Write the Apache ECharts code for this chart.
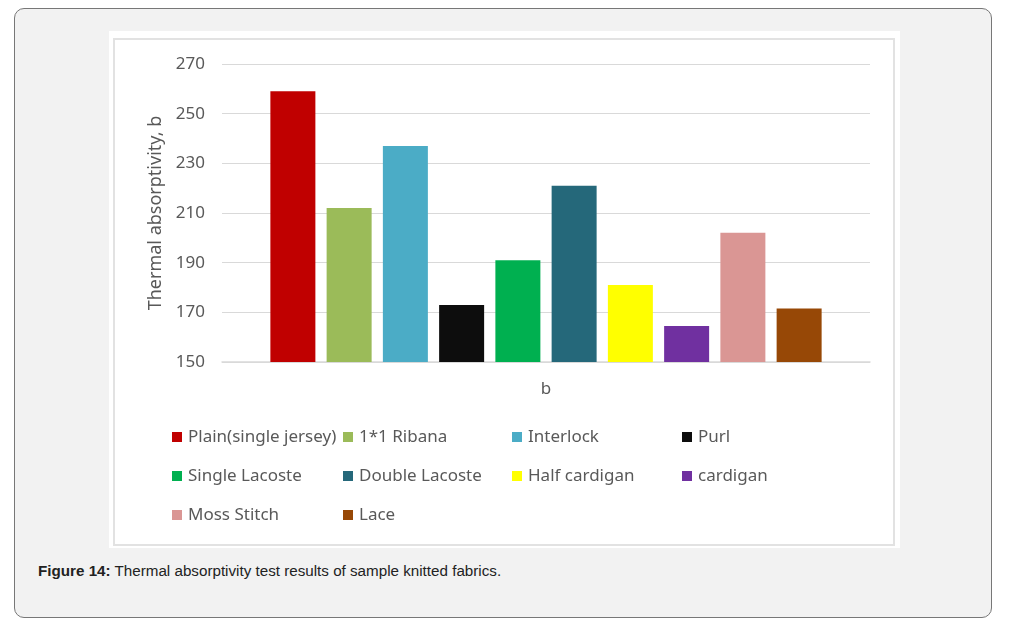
<!DOCTYPE html>
<html>
<head>
<meta charset="utf-8">
<script src="https://cdn.jsdelivr.net/npm/echarts@6/dist/echarts.min.js"></script>
<style>
  html, body { margin: 0; padding: 0; background: #fff; }
  #frame {
    position: absolute; left: 14px; top: 8px; width: 976px; height: 608px;
    border: 1.5px solid #777; border-radius: 10px; background: #f2f2f2;
  }
  #chart { position: absolute; left: 109px; top: 31px; width: 791px; height: 517px; background: #fff; }
  #caption {
    position: absolute; left: 38px; top: 562px; line-height: 18px;
    font-family: 'Liberation Sans', Arial, sans-serif; font-size: 15.2px; color: #222;
  }
</style>
</head>
<body>
<div id="frame"></div>
<div id="chart"></div>
<div id="caption"><b>Figure 14:</b> Thermal absorptivity test results of sample knitted fabrics.</div>
<script>
// 数据
const categories = ['b']
const fabrics = ['Plain(single jersey)', '1*1 Ribana', 'Interlock', 'Purl', 'Single Lacoste',
  'Double Lacoste', 'Half cardigan', 'cardigan', 'Moss Stitch', 'Lace']
const absorptivity = [259, 212, 237, 173, 191, 221, 181, 164.5, 202, 171.5]
const colors = ['#C00000', '#9BBB59', '#4BACC6', '#0D0D0D', '#00B050',
  '#25687A', '#FFFF00', '#7030A0', '#DA9694', '#974806']
// 图例按列排
const legendColumns = [
  [fabrics[0], fabrics[4], fabrics[8]],
  [fabrics[1], fabrics[5], fabrics[9]],
  [fabrics[2], fabrics[6]],
  [fabrics[3], fabrics[7]]
]
const legendLefts = [63, 234, 403, 573]

const font = 'Noto Sans'
const textColor = '#595959'

let myChart = echarts.init(document.getElementById('chart'))

let series = fabrics.map(function (name, i) {
  return {
    name: name,
    type: 'bar',
    barWidth: 45,
    barGap: '25%',
    itemStyle: {color: colors[i]},
    data: [absorptivity[i]]
  }
})

let legends = legendColumns.map(function (col, i) {
  return {
    orient: 'vertical',
    left: legendLefts[i],
    top: 396,
    padding: 0,
    icon: 'rect',
    itemWidth: 10,
    itemHeight: 10,
    itemGap: 19,
    selectedMode: false,
    textStyle: {fontFamily: font, fontSize: 17, color: textColor, lineHeight: 20, padding: [0, 0, 0, 1]},
    data: col
  }
})

let option = {
  animation: false,
  color: colors,
  grid: {left: 113, right: 30, top: 33, bottom: 186},
  graphic: [{
    type: 'rect',
    shape: {x: 5, y: 8, width: 780, height: 506},
    style: {fill: 'none', stroke: '#e2e2e2', lineWidth: 2},
    silent: true
  }],
  legend: legends,
  xAxis: {
    type: 'category',
    data: categories,
    axisTick: {show: false},
    axisLine: {lineStyle: {color: '#d9d9d9', width: 1.5}},
    axisLabel: {fontFamily: font, fontSize: 17, color: textColor, margin: 19}
  },
  yAxis: {
    type: 'value',
    min: 150,
    max: 270,
    interval: 20,
    name: 'Thermal absorptivity, b',
    nameLocation: 'middle',
    nameGap: 57,
    nameTextStyle: {fontFamily: font, fontSize: 18, color: textColor},
    axisLine: {show: false},
    axisTick: {show: false},
    axisLabel: {fontFamily: font, fontSize: 17, color: textColor, margin: 17},
    splitLine: {lineStyle: {color: '#d9d9d9', width: 1}}
  },
  series: series
}

myChart.setOption(option)
</script>
</body>
</html>
